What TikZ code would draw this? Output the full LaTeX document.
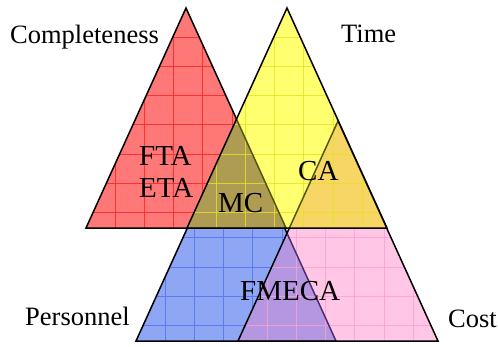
\documentclass[tikz,border=0pt]{standalone}
\usepackage{fontspec}
\setmainfont{Liberation Serif}
\definecolor{redfill}{HTML}{FF7878}
\definecolor{redgrid}{HTML}{FF3030}
\definecolor{yelfill}{HTML}{FFFF70}
\definecolor{yelgrid}{HTML}{E4E420}
\definecolor{bluefill}{HTML}{8EA6F4}
\definecolor{bluegrid}{HTML}{5A7CF0}
\definecolor{pinkfill}{HTML}{FFC6E6}
\definecolor{pinkgrid}{HTML}{FF9FD0}
\definecolor{mcfill}{HTML}{AE9C52}
\definecolor{cafill}{HTML}{F7D666}
\definecolor{fmfill}{HTML}{B496E1}
\definecolor{darkolive}{HTML}{55550F}
\definecolor{darkpurple}{HTML}{4A3070}
\newcommand\gridfrom[2]{%
  \foreach \k in {1,...,7}{%
    \draw[gridline] ({#1+\k*29.2},#2) -- ++(0,225);
    \draw[gridline] (#1,{#2+\k*29.2}) -- ++(205,0);
  }}
\begin{document}
\begin{tikzpicture}[x=1pt,y=-1pt,
  outline/.style={draw=black,line width=1.5pt,line join=miter},
  inner edge/.style={line width=1.5pt},
  gridline/.style={line width=0.8pt},
  lab/.style={anchor=base west,inner sep=0pt,font=\fontsize{26.5}{30}\selectfont},
  inlab/.style={anchor=base west,inner sep=0pt,font=\fontsize{29}{32}\selectfont}]
\useasboundingbox (0,0) rectangle (498,346);
% red
\coordinate (r1) at (186,8);  \coordinate (r2) at (86,228);  \coordinate (r3) at (286,228);
% yellow
\coordinate (y1) at (287,8);  \coordinate (y2) at (187,228); \coordinate (y3) at (387,228);
% blue
\coordinate (b1) at (236,121); \coordinate (b2) at (136,341); \coordinate (b3) at (336,341);
% pink
\coordinate (p1) at (338,121); \coordinate (p2) at (238,341); \coordinate (p3) at (438,341);

% ---------- lower layer ----------
\fill[bluefill] (b1) -- (b2) -- (b3) -- cycle;
\begin{scope}
  \clip (b1) -- (b2) -- (b3) -- cycle;
  \begin{scope}[draw=bluegrid] \gridfrom{136}{121} \end{scope}
\end{scope}
\draw[outline] (b1) -- (b2) -- (b3) -- cycle;
\fill[pinkfill] (p1) -- (p2) -- (p3) -- cycle;
\begin{scope}
  \clip (b1) -- (b2) -- (b3) -- cycle;
  \fill[fmfill] (p1) -- (p2) -- (p3) -- cycle;
\end{scope}
\begin{scope}
  \clip (p1) -- (p2) -- (p3) -- cycle;
  \begin{scope}[draw=pinkgrid,opacity=0.8] \gridfrom{238}{121} \end{scope}
  \draw[inner edge,darkpurple] (b1) -- (b2) -- (b3) -- cycle;
\end{scope}
\draw[outline] (p1) -- (p2) -- (p3) -- cycle;

% ---------- upper layer ----------
\fill[redfill] (r1) -- (r2) -- (r3) -- cycle;
\begin{scope}
  \clip (r1) -- (r2) -- (r3) -- cycle;
  \begin{scope}[draw=redgrid] \gridfrom{86}{8} \end{scope}
\end{scope}
\draw[outline] (r1) -- (r2) -- (r3) -- cycle;
\fill[yelfill] (y1) -- (y2) -- (y3) -- cycle;
\begin{scope}
  \clip (y1) -- (y2) -- (y3) -- cycle;
  \fill[mcfill] (r1) -- (r2) -- (r3) -- cycle;
  \fill[cafill] (p1) -- (p2) -- (p3) -- cycle;
  \begin{scope}[draw=yelgrid,opacity=0.8] \gridfrom{187}{8} \end{scope}
  \draw[inner edge,darkolive] (r1) -- (r2) -- (r3) -- cycle;
  \draw[inner edge,darkolive] (p1) -- (p2) -- (p3) -- cycle;
\end{scope}
\draw[outline] (y1) -- (y2) -- (y3) -- cycle;

% ---------- labels ----------
\node[lab] (completeness) at (10,43) {Completeness};
\node[lab] (time) at (341,42) {Time};
\node[lab] (personnel) at (25,325) {Personnel};
\node[lab] (cost) at (448,327) {Cost};
\node[inlab] (fta) at (139,165) {FTA};
\node[inlab] (eta) at (139,197) {ETA};
\node[inlab] (mc) at (218,212) {MC};
\node[inlab] (ca) at (298,180) {CA};
\node[inlab] (fmeca) at (240,300) {FMECA};
\end{tikzpicture}
\end{document}
